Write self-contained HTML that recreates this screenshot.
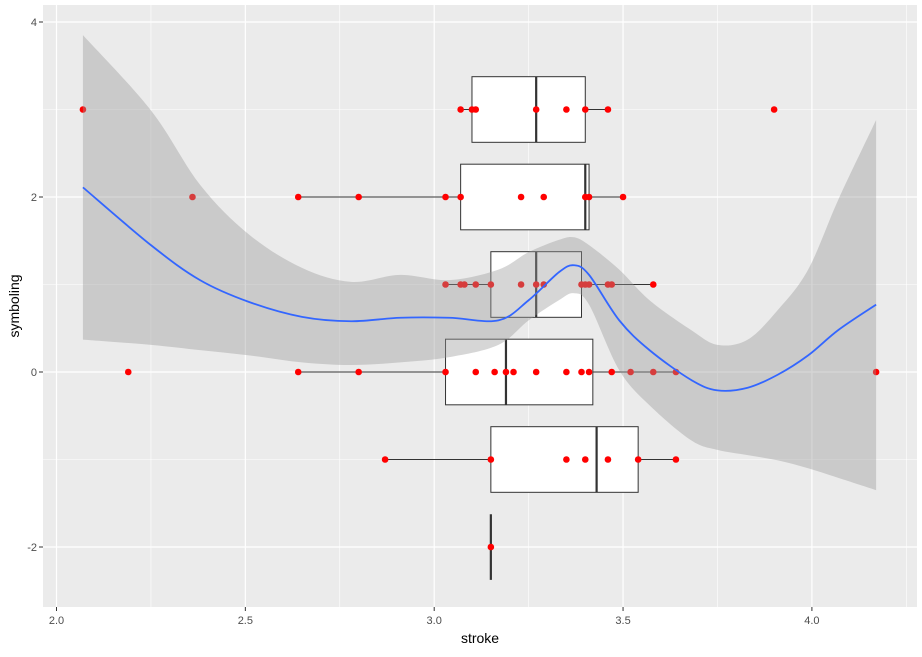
<!DOCTYPE html>
<html><head><meta charset="utf-8"><style>
body{margin:0;background:#fff}
svg text{font-family:"Liberation Sans",sans-serif}
</style></head><body>
<svg id="chart" width="922" height="652" xmlns="http://www.w3.org/2000/svg">
<rect x="43" y="5" width="874" height="602" fill="#ebebeb"/>
<g id="grid"></g><g id="boxes"></g><g id="pts"></g><g id="smooth"></g><g id="axes"></g>
<text x="480" y="643" font-size="14" text-anchor="middle" fill="#000">stroke</text>
<text transform="translate(19,306) rotate(-90)" font-size="14" text-anchor="middle" fill="#000">symboling</text>
</svg>
<script>
const xTicks=[2.0,2.5,3.0,3.5,4.0];
const xTickLabels=["2.0","2.5","3.0","3.5","4.0"];
const yTicks=[4,2,0,-2];
const yTickLabels=["4","2","0","-2"];
const groups=[3,2,1,0,-1,-2];
const boxQ1=[3.10,3.07,3.15,3.03,3.15,3.15];
const boxMed=[3.27,3.40,3.27,3.19,3.43,3.15];
const boxQ3=[3.40,3.41,3.39,3.42,3.54,3.15];
const whiskLo=[3.07,2.64,3.03,2.64,2.87,3.15];
const whiskHi=[3.46,3.50,3.58,3.64,3.64,3.15];
const ptX=[2.07,3.07,3.10,3.11,3.27,3.35,3.40,3.46,3.90,
 2.36,2.64,2.80,3.03,3.07,3.23,3.29,3.40,3.41,3.50,
 3.03,3.07,3.08,3.11,3.15,3.23,3.27,3.29,3.39,3.40,3.41,3.46,3.47,3.58,
 2.19,2.64,2.80,3.03,3.11,3.16,3.19,3.21,3.27,3.35,3.39,3.41,3.47,3.52,3.58,3.64,4.17,
 2.87,3.15,3.35,3.40,3.46,3.54,3.64,3.15];
const ptY=[3,3,3,3,3,3,3,3,3,
 2,2,2,2,2,2,2,2,2,2,
 1,1,1,1,1,1,1,1,1,1,1,1,1,1,
 0,0,0,0,0,0,0,0,0,0,0,0,0,0,0,0,0,
 -1,-1,-1,-1,-1,-1,-1,-2];
const fitX=[2.07,2.25,2.38,2.51,2.65,2.78,2.91,3.04,3.17,3.25,3.33,3.37,3.41,3.49,3.57,3.68,3.75,3.83,3.91,3.99,4.07,4.17];
const fitY=[2.11,1.45,1.05,0.80,0.63,0.58,0.62,0.62,0.59,0.82,1.14,1.22,1.11,0.59,0.25,-0.09,-0.21,-0.18,-0.03,0.19,0.48,0.77];
const fitUp=[3.85,2.99,2.14,1.57,1.19,1.03,1.11,1.05,1.17,1.37,1.51,1.54,1.45,1.17,0.82,0.48,0.31,0.37,0.71,1.17,1.97,2.88];
const fitLo=[0.37,0.31,0.25,0.19,0.11,0.08,0.11,0.17,0.31,0.59,0.82,0.90,0.77,0.02,-0.38,-0.78,-0.89,-0.95,-1.01,-1.10,-1.21,-1.35];

const NS="http://www.w3.org/2000/svg";
const sx=v=>56.5+(v-2)*377.7;
const sy=v=>372-v*87.5;
function mk(parent,tag,attrs){const e=document.createElementNS(NS,tag);for(const k in attrs)e.setAttribute(k,attrs[k]);document.getElementById(parent).appendChild(e);return e;}
// grid
[1.75,2.25,2.75,3.25,3.75,4.25].forEach(v=>{if(sx(v)>43&&sx(v)<917){const l=mk('grid','line',{x1:sx(v),x2:sx(v),y1:5,y2:607,stroke:'#fff','stroke-width':0.6});

}});
[5,3,1,-1,-3].forEach(v=>{if(sy(v)>5&&sy(v)<607){const l=mk('grid','line',{x1:43,x2:917,y1:sy(v),y2:sy(v),stroke:'#fff','stroke-width':0.6});

}});
xTicks.forEach((v,i)=>{const l=mk('grid','line',{x1:sx(v),x2:sx(v),y1:5,y2:607,stroke:'#fff','stroke-width':1.2});


const t=mk('axes','line',{x1:sx(v),x2:sx(v),y1:607,y2:611,stroke:'#333','stroke-width':1});


const tx=mk('axes','text',{x:sx(v),y:624,'font-size':11,'text-anchor':'middle',fill:'#4d4d4d'});tx.textContent=xTickLabels[i];

});
yTicks.forEach((v,i)=>{const l=mk('grid','line',{x1:43,x2:917,y1:sy(v),y2:sy(v),stroke:'#fff','stroke-width':1.2});


const t=mk('axes','line',{x1:39,x2:43,y1:sy(v),y2:sy(v),stroke:'#333','stroke-width':1});


const tx=mk('axes','text',{x:37,y:sy(v)+4,'font-size':11,'text-anchor':'end',fill:'#4d4d4d'});tx.textContent=yTickLabels[i];

});
// boxes
groups.forEach((g,i)=>{const h=0.375;
const w1=mk('boxes','line',{x1:sx(whiskLo[i]),x2:sx(boxQ1[i]),y1:sy(g),y2:sy(g),stroke:'#333','stroke-width':1});


const w2=mk('boxes','line',{x1:sx(boxQ3[i]),x2:sx(whiskHi[i]),y1:sy(g),y2:sy(g),stroke:'#333','stroke-width':1});


const r=mk('boxes','rect',{x:sx(boxQ1[i]),y:sy(g+h),width:Math.max(0,sx(boxQ3[i])-sx(boxQ1[i])),height:sy(g-h)-sy(g+h),fill:'#fff',stroke:'#333','stroke-width':1});


const m=mk('boxes','line',{x1:sx(boxMed[i]),x2:sx(boxMed[i]),y1:sy(g+h),y2:sy(g-h),stroke:'#333','stroke-width':2.2});

});
// points
ptX.forEach((x,i)=>{const c=mk('pts','circle',{cx:sx(x),cy:sy(ptY[i]),r:3.3,fill:'#ff0000'});

});
// smooth
function curve(xs,ys){let d='';for(let i=0;i<xs.length;i++){const px=sx(xs[i]),py=sy(ys[i]);if(i==0){d+='M'+px+','+py;}else{const p0x=sx(xs[Math.max(0,i-2)]),p0y=sy(ys[Math.max(0,i-2)]),p1x=sx(xs[i-1]),p1y=sy(ys[i-1]),p3x=sx(xs[Math.min(xs.length-1,i+1)]),p3y=sy(ys[Math.min(xs.length-1,i+1)]);
d+=' C'+(p1x+(px-p0x)/6)+','+(p1y+(py-p0y)/6)+' '+(px-(p3x-p1x)/6)+','+(py-(p3y-p1y)/6)+' '+px+','+py;}}return d;}
const rx=fitX.slice().reverse(),rl=fitLo.slice().reverse();
let dl=curve(rx,rl).replace('M',' L');
const band=mk('smooth','path',{d:curve(fitX,fitUp)+dl+' Z',fill:'#999999','fill-opacity':0.4});


const ln=mk('smooth','path',{d:curve(fitX,fitY),fill:'none',stroke:'#3366ff','stroke-width':1.8});


</script>
</body></html>
